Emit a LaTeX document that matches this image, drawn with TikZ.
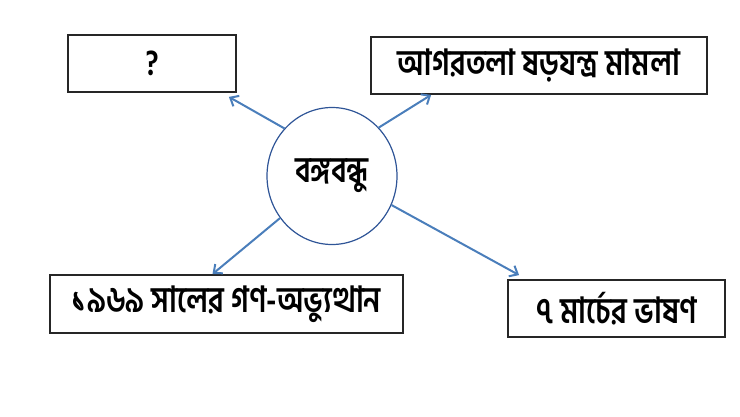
\documentclass[tikz,border=0pt]{standalone}
\usepackage{fontspec}
\newfontfamily\bn[Script=Bengali, FakeStretch=0.82]{Hind Siliguri}
\usetikzlibrary{arrows.meta,shapes.geometric}
\definecolor{arrowblue}{HTML}{4A7EBB}
\definecolor{ringblue}{HTML}{2F5597}
\tikzset{
  txt/.style={font=\bn\bfseries\fontsize{36}{40}\selectfont},
  box/.style={draw=black!85, line width=1.8pt, rectangle, inner sep=0pt, txt},
  conn/.style={draw=arrowblue, line width=2pt, -{Straight Barb[length=7pt,width=12pt,line width=2pt]}}
}
\begin{document}
\begin{tikzpicture}[x=1pt,y=-1pt]
\useasboundingbox (0,0) rectangle (740,416);
\node[box, minimum width=168pt, minimum height=57pt] (q) at (152,63.5) {?};
\node[box, minimum width=336pt, minimum height=57pt] (agar) at (539,65.5) {আগরতলা ষড়যন্ত্র মামলা};
\node[box, minimum width=353pt, minimum height=58pt] (gana) at (226.5,304) {১৯৬৯ সালের গণ-অভ্যুত্থান};
\node[box, minimum width=217pt, minimum height=57pt] (march) at (616.5,308.5) {৭ মার্চের ভাষণ};
\node[ellipse, draw=ringblue, line width=1.2pt, minimum width=130pt, minimum height=137pt, inner sep=0pt, txt] (c) at (332,176) {বঙ্গবন্ধু};
\draw[conn] (c.135) -- ([xshift=-8pt,yshift=-4pt]q.south east);
\draw[conn] (c.46) -- ([xshift=61pt]agar.south west);
\draw[conn] (c.219) -- ([xshift=-14pt]gana.north);
\draw[conn] (c.334) -- ([xshift=12pt,yshift=4pt]march.north west);
\end{tikzpicture}
\end{document}
